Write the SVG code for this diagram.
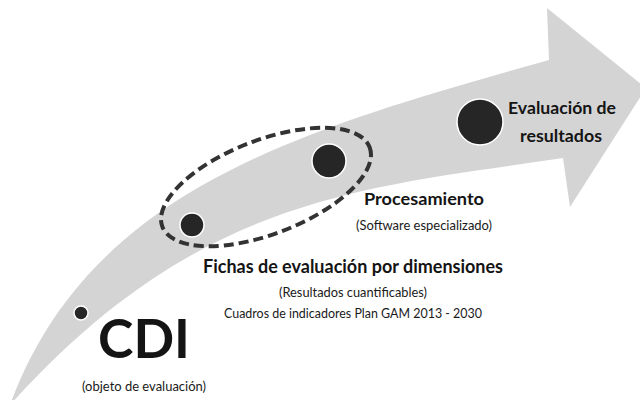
<svg xmlns="http://www.w3.org/2000/svg" width="640" height="400" viewBox="0 0 640 400">
<style>
.b{font-family:Lato,"Liberation Sans",Arial,sans-serif;font-weight:bold;fill:#141414;text-anchor:middle}
.r{font-family:Lato,"Liberation Sans",Arial,sans-serif;fill:#1a1a1a;text-anchor:middle}
.dot{fill:#262626;stroke:#ffffff;stroke-width:1.5}
</style>
<rect width="640" height="400" fill="#ffffff"/>
<g id="arrow">
<path d="M 10 405 C 89 190, 299 130, 549 60 L 547 8 L 646 88 L 570 207 L 563 158 C 363 188, 199 195, 10 405 Z" fill="#d4d4d4"/>
</g>
<g id="connectors">
<ellipse cx="266" cy="187" rx="111" ry="47" transform="rotate(-21 266 187)" fill="none" stroke="#333333" stroke-width="4" stroke-dasharray="10 5"/>
</g>
<g id="node-cdi">
<circle class="dot" cx="81" cy="313" r="7"/>
<text class="b" x="144" y="358" font-size="53" textLength="92" lengthAdjust="spacingAndGlyphs">CDI</text>
<text class="r" x="144" y="391" font-size="12.5" textLength="124" lengthAdjust="spacingAndGlyphs">(objeto de evaluación)</text>
</g>
<g id="node-fichas">
<circle class="dot" cx="192" cy="225" r="12"/>
<text class="b" x="353" y="273" font-size="18" textLength="300" lengthAdjust="spacingAndGlyphs">Fichas de evaluación por dimensiones</text>
<text class="r" x="353" y="297" font-size="12.5" textLength="148" lengthAdjust="spacingAndGlyphs">(Resultados cuantificables)</text>
<text class="r" x="353" y="318" font-size="12.5" textLength="258" lengthAdjust="spacingAndGlyphs">Cuadros de indicadores Plan GAM 2013 - 2030</text>
</g>
<g id="node-procesamiento">
<circle class="dot" cx="329" cy="161" r="17"/>
<text class="b" x="424" y="205" font-size="17" textLength="120" lengthAdjust="spacingAndGlyphs">Procesamiento</text>
<text class="r" x="424" y="230" font-size="12.5" textLength="136" lengthAdjust="spacingAndGlyphs">(Software especializado)</text>
</g>
<g id="node-evaluacion">
<circle class="dot" cx="480" cy="122" r="23"/>
<text class="b" x="562" y="114" font-size="17" textLength="108" lengthAdjust="spacingAndGlyphs">Evaluación de</text>
<text class="b" x="561" y="142" font-size="17" textLength="82" lengthAdjust="spacingAndGlyphs">resultados</text>
</g>
</svg>
